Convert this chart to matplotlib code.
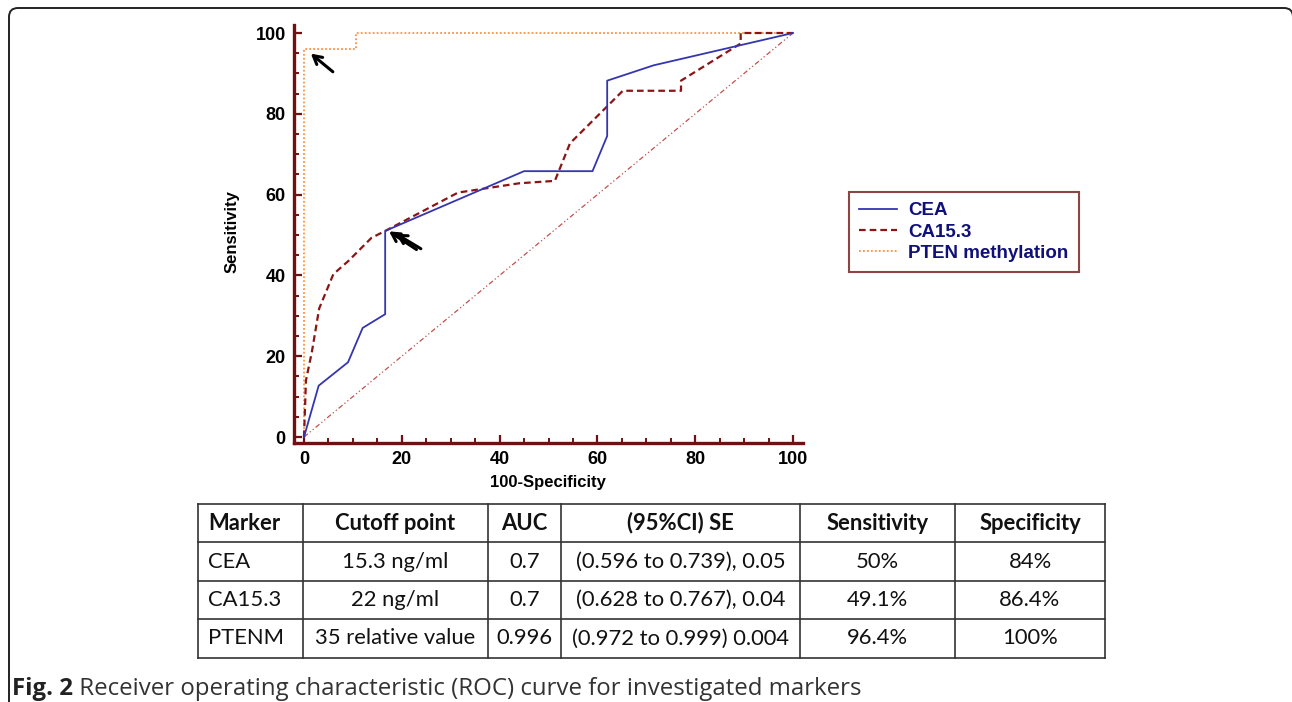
import matplotlib
matplotlib.use("Agg")
import matplotlib.pyplot as plt
from matplotlib.patches import PathPatch
from matplotlib.path import Path
from matplotlib.lines import Line2D
from matplotlib.transforms import IdentityTransform
from matplotlib.ticker import MultipleLocator

# ---------------- data ----------------
cea_fpr = [0, 3, 9, 12, 16.6, 16.6, 45, 59, 62, 62, 71.5, 100]
cea_tpr = [0, 12.7, 18.5, 27, 30.4, 51, 65.8, 65.8, 74.5, 88.2, 92, 100]

ca153_fpr = [0, 0.4, 1.6, 3.1, 6, 9.1, 13.8, 16.6, 31.5, 44, 51.3, 54.4, 65.2, 77.1, 77.1, 89.3, 89.3, 100]
ca153_tpr = [0, 14, 21, 31.8, 40.3, 43.6, 49.3, 51, 60.5, 62.8, 63.4, 72.7, 85.7, 85.7, 88.2, 97.4, 100, 100]

pten_fpr = [0, 0, 10.6, 10.6, 100]
pten_tpr = [0, 96, 96, 100, 100]

diag_x = [0, 100]
diag_y = [0, 100]

series_labels = ["CEA", "CA15.3", "PTEN methylation"]
xticks = [0, 20, 40, 60, 80, 100]
yticks = [0, 20, 40, 60, 80, 100]

table_header = ["Marker", "Cutoff point", "AUC", "(95%CI) SE", "Sensitivity", "Specificity"]
table_rows = [
    ["CEA", "15.3 ng/ml", "0.7", "(0.596 to 0.739), 0.05", "50%", "84%"],
    ["CA15.3", "22 ng/ml", "0.7", "(0.628 to 0.767), 0.04", "49.1%", "86.4%"],
    ["PTENM", "35 relative value", "0.996", "(0.972 to 0.999) 0.004", "96.4%", "100%"],
]
caption_bold = "Fig. 2"
caption_text = " Receiver operating characteristic (ROC) curve for investigated markers"

# ---------------- figure ----------------
W, H = 1292, 702
fig = plt.figure(figsize=(W / 100, H / 100), dpi=100)
fig.patch.set_facecolor("white")


def fx(px):
    return px / W


def fy(py):
    return 1 - py / H


maroon = "#701010"
ax = fig.add_axes([fx(304), fy(437), (793 - 304) / W, (437 - 33) / H])
ax.set_xlim(0, 100)
ax.set_ylim(0, 100)
ax.patch.set_alpha(0)

for s in ["top", "right"]:
    ax.spines[s].set_visible(False)
ax.spines["left"].set_position(("outward", 7.2))
ax.spines["bottom"].set_position(("outward", 4.3))
for s in ["left", "bottom"]:
    ax.spines[s].set_color(maroon)
    ax.spines[s].set_linewidth(2.4)
ax.spines["left"].set_bounds(-1.5, 102)
ax.spines["bottom"].set_bounds(-2, 102)

ax.set_xticks(xticks)
ax.set_yticks(yticks)
ax.xaxis.set_minor_locator(MultipleLocator(5))
ax.yaxis.set_minor_locator(MultipleLocator(5))
ax.tick_params(which="major", direction="in", length=6, width=1.6, color=maroon, pad=6)
ax.tick_params(which="minor", direction="in", length=3.5, width=1.4, color=maroon)
for lab in ax.get_xticklabels() + ax.get_yticklabels():
    lab.set_fontfamily("Liberation Sans")
    lab.set_fontweight("bold")
    lab.set_fontsize(13)

# curves
ax.plot(diag_x, diag_y, color="#c05050", lw=0.9, ls=(0, (4, 2, 1, 2, 1, 2)), clip_on=False)
l_pten, = ax.plot(pten_fpr, pten_tpr, color="#ff9040", lw=1.3, ls=(0, (1, 1.2)), clip_on=False,
                  label=series_labels[2])
l_ca, = ax.plot(ca153_fpr, ca153_tpr, color="#8b1515", lw=1.6, ls=(0, (3, 1.8)), clip_on=False,
                label=series_labels[1])
l_cea, = ax.plot(cea_fpr, cea_tpr, color="#3535b0", lw=1.3, clip_on=False, label=series_labels[0])

# arrows
arrow_kw = dict(arrowstyle="->,head_length=0.6,head_width=0.33", color="black", lw=2.2,
                shrinkA=0, shrinkB=0)
ax.annotate("", xy=(1.4, 94.9), xytext=(5.9, 90.4), arrowprops=arrow_kw)
ax.annotate("", xy=(17.4, 50.9), xytext=(23.0, 46.4), arrowprops=arrow_kw)
ax.annotate("", xy=(18.8, 50.3), xytext=(23.9, 46.6), arrowprops=arrow_kw)

# axis labels
fig.text(fx(232), fy(232), "Sensitivity", rotation=90, ha="center", va="center",
         family="Liberation Sans", weight="bold", fontsize=12)
fig.text(fx(548), fy(483), "100-Specificity", ha="center", va="center",
         family="Liberation Sans", weight="bold", fontsize=12)

# legend
leg = ax.legend(handles=[l_cea, l_ca, l_pten], loc="upper left",
                bbox_to_anchor=(fx(849), fy(192)), bbox_transform=fig.transFigure,
                prop=dict(family="Liberation Sans", weight="bold", size=13.5),
                frameon=True, fancybox=False, handlelength=2.0, handletextpad=0.6,
                labelspacing=0.22, borderpad=0.55, borderaxespad=0)
leg.get_frame().set_edgecolor("#701515")
leg.get_frame().set_linewidth(1.5)
for t in leg.get_texts():
    t.set_color("#10107a")

# table
col_edges = [198, 303, 488, 561, 800, 955, 1105]
row_edges = [504, 542, 581, 619, 658]
line_col = "#333333"
for xe in col_edges:
    fig.add_artist(Line2D([fx(xe), fx(xe)], [fy(row_edges[0]), fy(row_edges[-1])],
                          color=line_col, lw=1.2, transform=fig.transFigure))
for ye in row_edges:
    fig.add_artist(Line2D([fx(col_edges[0]), fx(col_edges[-1])], [fy(ye), fy(ye)],
                          color=line_col, lw=1.2, transform=fig.transFigure))

all_rows = [table_header] + table_rows
for r, row in enumerate(all_rows):
    yc = (row_edges[r] + row_edges[r + 1]) / 2
    for c, txt in enumerate(row):
        if c == 0:
            xpos, ha = col_edges[0] + 10, "left"
        else:
            xpos, ha = (col_edges[c] + col_edges[c + 1]) / 2, "center"
        fig.text(fx(xpos), fy(yc), txt, ha=ha, va="center", family="Lato",
                 weight="bold" if r == 0 else "normal", fontsize=15.8, color="#111111")

# caption
t1 = fig.text(fx(12), fy(689), caption_bold, ha="left", va="center", family="Open Sans",
              weight="bold", fontsize=17.3, color="#222222")
fig.canvas.draw()
bb = t1.get_window_extent()
fig.text(bb.x1 / W, fy(689), caption_text, ha="left", va="center", family="Open Sans",
         fontsize=17.3, color="#333333")

# border (left edge, top edge and rounded corners; right side runs off the image)
top = H - 8
verts = [(9, -10), (9, top - 9), (9, top), (18, top), (1284, top), (1293, top), (1293, top - 9)]
codes = [Path.MOVETO, Path.LINETO, Path.CURVE3, Path.CURVE3, Path.LINETO, Path.CURVE3, Path.CURVE3]
border = PathPatch(Path(verts, codes), facecolor="none", edgecolor="#222222", lw=1.4,
                   transform=IdentityTransform())
fig.patches.append(border)

fig.savefig("out.png", dpi=100)
